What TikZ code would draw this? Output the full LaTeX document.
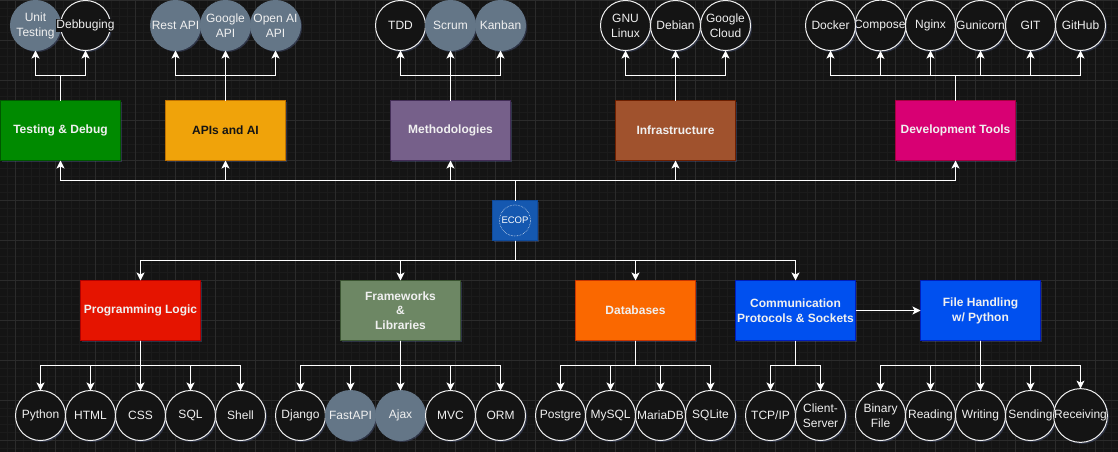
\documentclass[tikz,border=0pt]{standalone}
\usepackage{fontspec}
\setmainfont{Liberation Sans}
\usetikzlibrary{arrows.meta,shadows}
\definecolor{bgc}{HTML}{141414}
\definecolor{gridmaj}{HTML}{2B2B2B}
\definecolor{gridmin}{HTML}{1B1B1B}
\definecolor{glow}{HTML}{5A6A9E}
\definecolor{txt}{HTML}{F0F0F0}
\definecolor{slate}{HTML}{647687}
\definecolor{Tesc}{HTML}{008A00}\definecolor{Tesb}{HTML}{005700}
\definecolor{APIc}{HTML}{F0A30A}\definecolor{APIb}{HTML}{BD7000}
\definecolor{Metc}{HTML}{76608A}\definecolor{Metb}{HTML}{432D57}
\definecolor{Infc}{HTML}{A0522D}\definecolor{Infb}{HTML}{6D1F00}
\definecolor{Devc}{HTML}{D80073}\definecolor{Devb}{HTML}{A50040}
\definecolor{Proc}{HTML}{E51400}\definecolor{Prob}{HTML}{B20000}
\definecolor{Frac}{HTML}{6D8764}\definecolor{Frab}{HTML}{3A5431}
\definecolor{Datc}{HTML}{FA6800}\definecolor{Datb}{HTML}{C73500}
\definecolor{Comc}{HTML}{0050EF}\definecolor{Comb}{HTML}{001DBC}
\definecolor{Logc}{HTML}{1558B0}\definecolor{Logb}{HTML}{0F4A9A}
\tikzset{
  glowshadow/.style={drop shadow={shadow xshift=1.5pt,shadow yshift=-1.5pt,opacity=.35,fill=glow}},
  topic/.style n args={2}{rectangle,draw=#2,fill=#1,line width=1pt,minimum width=120pt,minimum height=60pt,
    inner sep=0pt,outer sep=0pt,align=center,text=txt,font=\fontsize{12}{15}\selectfont\bfseries,glowshadow},
  tool/.style={circle,draw=txt,fill=bgc,line width=1pt,minimum size=50pt,inner sep=0pt,outer sep=0pt,
    align=center,text=txt,font=\fontsize{12}{15}\selectfont,glowshadow},
  toolf/.style={tool,draw=slate,fill=slate},
  conn/.style={draw=white,line width=1pt,-{Stealth[length=8pt,width=8pt,inset=2pt]}},
}
\begin{document}
\begin{tikzpicture}[x=1pt,y=-1pt]
\useasboundingbox (-0.5,-0.5) rectangle (1117.5,451.5);
\begin{scope}
\clip (-0.5,-0.5) rectangle (1117.5,451.5);
\fill[bgc] (-0.5,-0.5) rectangle (1117.5,451.5);
\foreach \k in {0,...,140}{\draw[gridmin,line width=1pt] ({-1+8*\k},-0.5) -- ({-1+8*\k},451.5);}
\foreach \k in {0,...,57}{\draw[gridmin,line width=1pt] (-0.5,{8*\k}) -- (1117.5,{8*\k});}
\foreach \k in {0,...,27}{\draw[gridmaj,line width=1pt] ({15+40*\k},-0.5) -- ({15+40*\k},451.5);}
\foreach \k in {0,...,11}{\draw[gridmaj,line width=1pt] (-0.5,{40*\k}) -- (1117.5,{40*\k});}

% top row topics
\node[topic={Tesc}{Tesb}] (tdbg) at (60,130) {Testing \& Debug};
\node[topic={APIc}{APIb},text=bgc] (apis) at (225,130) {APIs and AI};
\node[topic={Metc}{Metb}] (meth) at (450,130) {Methodologies};
\node[topic={Infc}{Infb}] (infra) at (675,130) {Infrastructure};
\node[topic={Devc}{Devb}] (dev) at (955,130) {Development Tools};

% top row tools
\node[toolf] (unit) at (35,25) {Unit\\Testing};
\node[tool] (debbug) at (85,25) {};
\node[text=txt,fill=black!92,inner xsep=0.5pt,inner ysep=1pt,font=\fontsize{12}{15}\selectfont] (debbugl) at (85,25) {Debbuging};
\node[toolf] (rest) at (175,25) {Rest API};
\node[toolf] (gapi) at (225,25) {Google\\API};
\node[toolf] (oapi) at (275,25) {Open AI\\API};
\node[tool] (tddn) at (400,25) {TDD};
\node[toolf] (scrum) at (450,25) {Scrum};
\node[toolf] (kanban) at (500,25) {Kanban};
\node[tool] (gnu) at (625,25) {GNU\\Linux};
\node[tool] (debian) at (675,25) {Debian};
\node[tool] (gcloud) at (725,25) {Google\\Cloud};
\node[tool] (compose) at (880,25) {\kern-1.5pt Compose};
\node[tool] (docker) at (830,25) {Docker};
\node[tool] (nginx) at (930,25) {Nginx};
\node[tool] (gunicorn) at (980,25) {Gunicorn};
\node[tool] (gitn) at (1030,25) {GIT};
\node[tool] (github) at (1080,25) {GitHub};

% logo
\node[rectangle,draw=Logb,fill=Logc,line width=1pt,minimum width=45pt,minimum height=40pt,inner sep=0pt,outer sep=0pt,
  text=white,font=\fontsize{9.5}{9.5}\selectfont,glowshadow] (logo) at (514.5,220) {ECOP};
\draw[white!85!Logc,line width=.6pt,densely dotted] (logo.center) circle (15.5pt);

% bottom row topics
\node[topic={Proc}{Prob}] (prog) at (140,310) {Programming Logic};
\node[topic={Frac}{Frab}] (frame) at (400,310) {Frameworks\\[-0.6pt]\&\\[-0.6pt]Libraries};
\node[topic={Datc}{Datb}] (data) at (635,310) {Databases};
\node[topic={Comc}{Comb}] (comm) at (795,310) {Communication\\Protocols \& Sockets};
\node[topic={Comc}{Comb}] (file) at (980,310) {File Handling\\w/ Python};

% bottom row tools
\node[tool] (python) at (40,415) {Python};
\node[tool] (html) at (90,415) {HTML};
\node[tool] (css) at (140,415) {CSS};
\node[tool] (sql) at (190,415) {SQL};
\node[tool] (shell) at (240,415) {Shell};
\node[tool] (django) at (300,415) {Django};
\node[toolf] (fastapi) at (350,415) {FastAPI};
\node[toolf] (ajax) at (400,415) {Ajax};
\node[tool] (mvc) at (450,415) {MVC};
\node[tool] (orm) at (500,415) {ORM};
\node[tool] (postgre) at (560,415) {Postgre};
\node[tool] (mysql) at (610,415) {MySQL};
\node[tool] (maria) at (660,415) {MariaDB};
\node[tool] (sqlite) at (710,415) {SQLite};
\node[tool] (tcp) at (770,415) {TCP/IP};
\node[tool] (client) at (820,415) {Client-\\Server};
\node[tool] (binary) at (880,415) {Binary\\File};
\node[tool] (reading) at (930,415) {Reading};
\node[tool] (writing) at (980,415) {Writing};
\node[tool] (sending) at (1030,415) {Sending};
\node[tool] (receiving) at (1080,415) {Receiving};

% connectors
\foreach \a/\b in {tdbg/unit,tdbg/debbug,apis/rest,apis/gapi,apis/oapi,meth/tddn,meth/scrum,meth/kanban,
  infra/gnu,infra/debian,infra/gcloud,dev/docker,dev/compose,dev/nginx,dev/gunicorn,dev/gitn,dev/github}
  {\draw[conn] (\a.north) -- ++(0,-25) -| (\b.south);}
\foreach \b in {tdbg,apis,meth,infra,dev}
  {\draw[conn] (logo.north) -- ++(0,-20) -| (\b.south);}
\foreach \b in {prog,frame,data,comm}
  {\draw[conn] (logo.south) -- ++(0,20) -| (\b.north);}
\foreach \a/\b in {prog/python,prog/html,prog/css,prog/sql,prog/shell,
  frame/django,frame/fastapi,frame/ajax,frame/mvc,frame/orm,
  data/postgre,data/mysql,data/maria,data/sqlite,comm/tcp,comm/client,
  file/binary,file/reading,file/writing,file/sending,file/receiving}
  {\draw[conn] (\a.south) -- ++(0,25) -| (\b.north);}
\draw[conn] (comm.east) -- (file.west);
\end{scope}
\end{tikzpicture}
\end{document}
